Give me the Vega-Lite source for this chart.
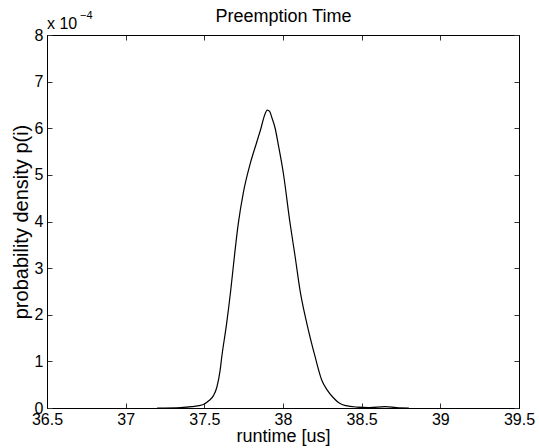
{
  "$schema": "https://vega.github.io/schema/vega-lite/v6.json",
  "width": 472,
  "height": 373,
  "autosize": {"type": "none"},
  "padding": {"left": 47, "top": 35, "right": 20, "bottom": 40},
  "background": "white",
  "config": {
    "font": "Liberation Sans",
    "view": {"stroke": "black", "strokeWidth": 1},
    "axis": {"grid": false, "domainColor": "black", "tickColor": "#333333", "tickWidth": 1, "labelColor": "black", "titleColor": "black", "labelFont": "Liberation Sans", "titleFont": "Liberation Sans", "titleFontWeight": "normal"}
  },
  "datasets": {
    "curve": [
      {"runtime": 37.20, "p": 0.0},
      {"runtime": 37.35, "p": 0.01},
      {"runtime": 37.42, "p": 0.03},
      {"runtime": 37.49, "p": 0.07},
      {"runtime": 37.53, "p": 0.16},
      {"runtime": 37.557, "p": 0.26},
      {"runtime": 37.58, "p": 0.45},
      {"runtime": 37.60, "p": 0.8},
      {"runtime": 37.611, "p": 1.1},
      {"runtime": 37.642, "p": 1.82},
      {"runtime": 37.668, "p": 2.53},
      {"runtime": 37.691, "p": 3.25},
      {"runtime": 37.716, "p": 3.96},
      {"runtime": 37.748, "p": 4.62},
      {"runtime": 37.79, "p": 5.22},
      {"runtime": 37.833, "p": 5.7},
      {"runtime": 37.86, "p": 6.0},
      {"runtime": 37.88, "p": 6.25},
      {"runtime": 37.90, "p": 6.39},
      {"runtime": 37.915, "p": 6.36},
      {"runtime": 37.93, "p": 6.22},
      {"runtime": 37.95, "p": 6.0},
      {"runtime": 37.97, "p": 5.65},
      {"runtime": 38.002, "p": 5.04},
      {"runtime": 38.045, "p": 3.96},
      {"runtime": 38.077, "p": 3.25},
      {"runtime": 38.108, "p": 2.53},
      {"runtime": 38.151, "p": 1.82},
      {"runtime": 38.204, "p": 1.1},
      {"runtime": 38.246, "p": 0.6},
      {"runtime": 38.278, "p": 0.4},
      {"runtime": 38.32, "p": 0.22},
      {"runtime": 38.36, "p": 0.1},
      {"runtime": 38.40, "p": 0.05},
      {"runtime": 38.47, "p": 0.02},
      {"runtime": 38.55, "p": 0.01},
      {"runtime": 38.65, "p": 0.03},
      {"runtime": 38.72, "p": 0.01},
      {"runtime": 38.80, "p": 0.0}
    ],
    "note": [{"t": "x 10", "e": "\u22124"}]
  },
  "layer": [
    {
      "data": {"name": "curve"},
      "mark": {"type": "line", "color": "black", "strokeWidth": 1.2, "interpolate": "monotone", "clip": true},
      "encoding": {
        "x": {"field": "runtime", "type": "quantitative", "scale": {"domain": [36.5, 39.5], "nice": false, "zero": false},
          "axis": {"orient": "bottom", "values": [36.5, 37, 37.5, 38, 38.5, 39, 39.5], "format": "~g", "tickSize": -5, "labelPadding": 8, "labelFontSize": 16, "title": "runtime [us]", "titleFontSize": 18, "titlePadding": 0, "labelFlush": false}},
        "y": {"field": "p", "type": "quantitative", "scale": {"domain": [0, 8], "nice": false},
          "axis": {"orient": "left", "values": [0, 1, 2, 3, 4, 5, 6, 7, 8], "format": "d", "tickSize": -5, "labelPadding": 9, "labelFontSize": 16, "title": "probability density p(i)", "titleFontSize": 20, "titlePadding": 3, "labelFlush": false}}
      }
    },
    {
      "data": {"name": "curve"},
      "mark": {"type": "line", "opacity": 0},
      "encoding": {
        "x": {"field": "runtime", "type": "quantitative", "scale": {"domain": [36.5, 39.5], "nice": false, "zero": false},
          "axis": {"orient": "top", "values": [36.5, 37, 37.5, 38, 38.5, 39, 39.5], "tickSize": -5, "labels": false, "title": "Preemption Time", "titleFontSize": 18, "titlePadding": 9}},
        "y": {"field": "p", "type": "quantitative", "scale": {"domain": [0, 8], "nice": false},
          "axis": {"orient": "right", "values": [0, 1, 2, 3, 4, 5, 6, 7, 8], "tickSize": -5, "labels": false, "title": null}}
      }
    },
    {
      "data": {"name": "note"},
      "mark": {"type": "text", "align": "left", "baseline": "alphabetic", "fontSize": 16, "color": "black", "dx": 0, "dy": -6},
      "encoding": {
        "x": {"datum": 36.5, "type": "quantitative", "axis": null},
        "y": {"datum": 8, "type": "quantitative", "axis": null},
        "text": {"field": "t"}
      }
    },
    {
      "data": {"name": "note"},
      "mark": {"type": "text", "align": "left", "baseline": "alphabetic", "fontSize": 11, "color": "black", "dx": 33, "dy": -16},
      "encoding": {
        "x": {"datum": 36.5, "type": "quantitative", "axis": null},
        "y": {"datum": 8, "type": "quantitative", "axis": null},
        "text": {"field": "e"}
      }
    }
  ],
  "resolve": {"axis": {"x": "independent", "y": "independent"}}
}
